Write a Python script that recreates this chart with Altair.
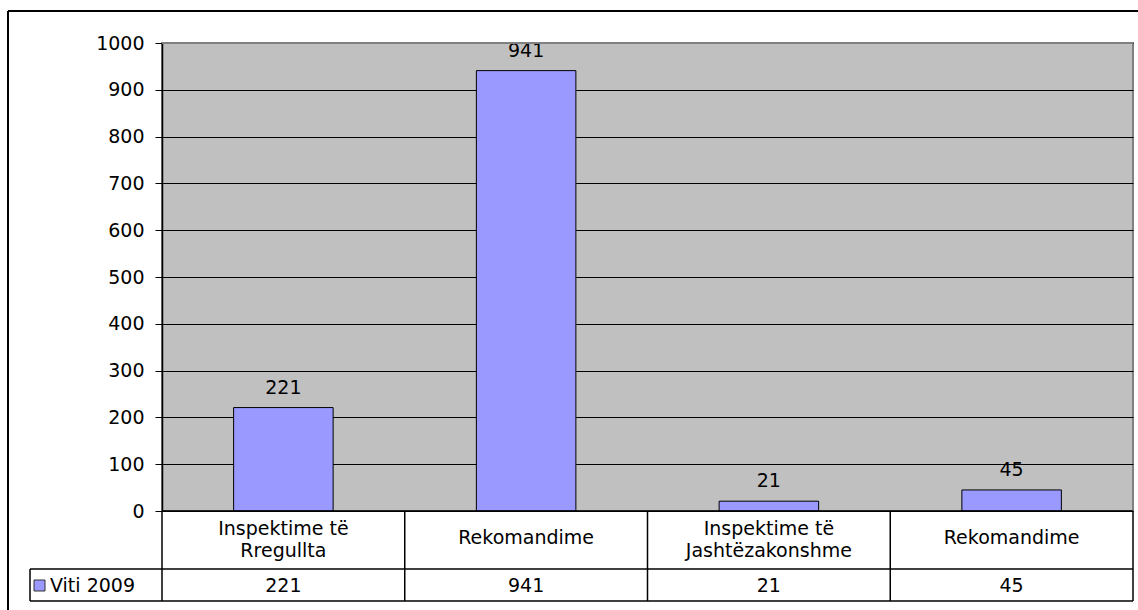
import altair as alt
import pandas as pd

# ---- data ----
categories = ["Inspektime të\nRregullta", "Rekomandime", "Inspektime të\nJashtëzakonshme", "Rekomandime"]
values = [221, 941, 21, 45]
series_name = "Viti 2009"
y_ticks = [0, 100, 200, 300, 400, 500, 600, 700, 800, 900, 1000]

idx = list(range(len(categories)))
df = pd.DataFrame({
    "i": idx,
    "x0": [k + 0.295 for k in idx],
    "x1": [k + 0.705 for k in idx],
    "xc": [k + 0.5 for k in idx],
    "cat": categories,
    "value": values,
})
one = pd.DataFrame({"series": [series_name]})

W, H = 971, 468
FONT = "DejaVu Sans"
FS = 19
BAR = "#9999FF"

xs = alt.Scale(domain=[0, len(categories)], nice=False, zero=False)
y_enc = alt.Y(
    "value:Q",
    scale=alt.Scale(domain=[0, 1000], nice=False),
    axis=alt.Axis(
        values=y_ticks, title=None, grid=True, format="d",
        gridColor="#000000", gridWidth=1, domainColor="black", domainWidth=1.5,
        tickColor="black", tickSize=7,
        labelFont=FONT, labelFontSize=FS, labelColor="black", labelPadding=11,
    ),
)

base = alt.Chart(df)
xq = alt.X("xc:Q", scale=xs, axis=None)

bars = base.mark_rect(color=BAR, stroke="black", strokeWidth=1).encode(
    x=alt.X("x0:Q", scale=xs, axis=None), x2="x1:Q", y=y_enc, y2=alt.datum(0)
)
bar_labels = base.mark_text(font=FONT, fontSize=FS, color="black", baseline="alphabetic", dy=-14).encode(
    x=xq, y="value:Q", text="value:Q"
)
cat_text2 = base.transform_filter("indexof(datum.cat, '\\n') >= 0").mark_text(
    font=FONT, fontSize=FS, color="black", baseline="middle", lineBreak="\n", lineHeight=22
).encode(x=xq, y=alt.value(486), text="cat:N")
cat_text1 = base.transform_filter("indexof(datum.cat, '\\n') < 0").mark_text(
    font=FONT, fontSize=FS, color="black", baseline="middle"
).encode(x=xq, y=alt.value(495), text="cat:N")
val_text = base.mark_text(font=FONT, fontSize=FS, color="black", baseline="middle").encode(
    x=xq, y=alt.value(543), text="value:Q"
)
dividers = base.mark_rule(color="black", strokeWidth=1.5).encode(
    x=alt.X("i:Q", scale=xs, axis=None), y=alt.value(H), y2=alt.value(558)
)

lines = alt.Chart(one)
top_border = lines.mark_rule(color="#808080", strokeWidth=2).encode(x=alt.value(0), x2=alt.value(W), y=alt.value(0))
right_edge = lines.mark_rule(color="black", strokeWidth=1.5).encode(x=alt.value(W), y=alt.value(H), y2=alt.value(558))
x_axis_line = lines.mark_rule(color="black", strokeWidth=1.5).encode(x=alt.value(0), x2=alt.value(W), y=alt.value(H))
row_line1 = lines.mark_rule(color="black", strokeWidth=1.5).encode(x=alt.value(-132), x2=alt.value(W), y=alt.value(526))
row_line2 = lines.mark_rule(color="black", strokeWidth=1.5).encode(x=alt.value(-132), x2=alt.value(W), y=alt.value(558))
left_cell = lines.mark_rule(color="black", strokeWidth=1.5).encode(x=alt.value(-132), y=alt.value(526), y2=alt.value(558))
legend_sq = lines.mark_rect(color=BAR, stroke="#333333", strokeWidth=1).encode(
    x=alt.value(-128), x2=alt.value(-117), y=alt.value(537), y2=alt.value(548)
)
legend_txt = lines.mark_text(font=FONT, fontSize=FS, color="black", align="left", baseline="middle").encode(
    x=alt.value(-112), y=alt.value(543), text="series:N"
)
outer_l = lines.mark_rule(color="black", strokeWidth=2).encode(x=alt.value(-154), y=alt.value(-32), y2=alt.value(575))
outer_t = lines.mark_rule(color="black", strokeWidth=2).encode(x=alt.value(-154), x2=alt.value(W + 20), y=alt.value(-32))

chart = alt.layer(
    bars, bar_labels, dividers, top_border, right_edge, x_axis_line, row_line1, row_line2, left_cell,
    cat_text2, cat_text1, val_text, legend_sq, legend_txt, outer_l, outer_t,
).properties(
    width=W, height=H,
    autosize=alt.AutoSizeParams(type="none"),
    padding={"left": 162, "top": 43, "right": 5, "bottom": 99},
    background="white",
).configure_view(stroke="#808080", strokeWidth=2, fill="#C0C0C0")

chart.save("out.html", embed_options={"renderer": "svg", "actions": False})
